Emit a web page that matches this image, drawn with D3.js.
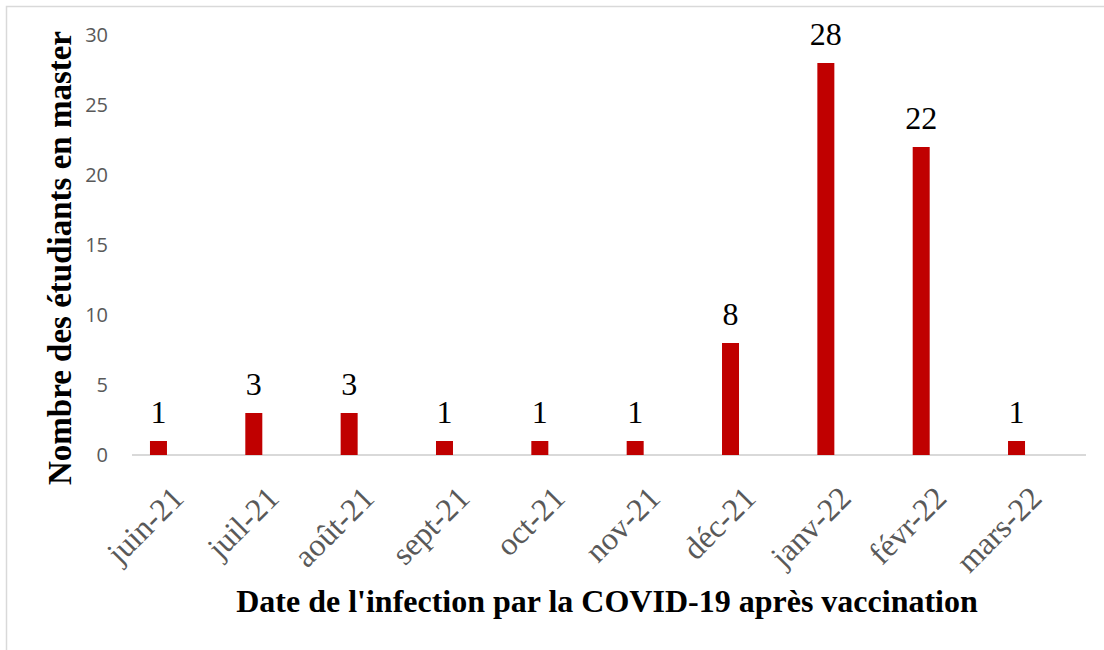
<!DOCTYPE html>
<html>
<head>
<meta charset="utf-8">
<script src="https://cdn.jsdelivr.net/npm/d3@7"></script>
<style>
  body { margin: 0; background: #fff; }
</style>
</head>
<body>
<svg id="chart" width="1104" height="650"></svg>
<script>
// Data
let months = ["juin-21", "juil-21", "août-21", "sept-21", "oct-21", "nov-21", "déc-21", "janv-22", "févr-22", "mars-22"];
let counts = [1, 3, 3, 1, 1, 1, 8, 28, 22, 1];
let yTicks = [0, 5, 10, 15, 20, 25, 30];

let colors = {
  bar: "#c00000",
  tick: "#595959",
  axis: "#d9d9d9",
  frame: "#d9d9d9",
  text: "black"
};

let serif = "'Liberation Serif', 'Times New Roman', serif";

let svg = d3.select("#chart");

// Outer frame
svg.append("rect")
  .attr("x", 6.5)
  .attr("y", 6.5)
  .attr("width", 1120)
  .attr("height", 700)
  .attr("fill", "white")
  .attr("stroke", colors.frame)
  .attr("stroke-width", 1.5);

// Scales
let x = d3.scaleBand()
  .domain(months)
  .range([110.8, 1064.2]);

let y = d3.scaleLinear()
  .domain([0, 30])
  .range([455, 35]);

let barWidth = 17;

// Y tick labels
svg.append("g")
  .selectAll("text")
  .data(yTicks)
  .enter()
  .append("text")
  .attr("x", 108)
  .attr("y", d => y(d))
  .attr("dy", "0.36em")
  .attr("text-anchor", "end")
  .style("font-family", "'Open Sans', 'Liberation Sans', sans-serif")
  .style("font-size", "20px")
  .style("fill", colors.tick)
  .text(d => d);

// Baseline
svg.append("line")
  .attr("x1", 132)
  .attr("x2", 1086)
  .attr("y1", y(0))
  .attr("y2", y(0))
  .attr("stroke", colors.axis)
  .attr("stroke-width", 2);

// Bars
svg.append("g")
  .selectAll("rect")
  .data(counts)
  .enter()
  .append("rect")
  .attr("x", (d, i) => x(months[i]) + x.bandwidth() / 2 - barWidth / 2)
  .attr("y", d => y(d))
  .attr("width", barWidth)
  .attr("height", d => y(0) - y(d))
  .attr("fill", colors.bar);

// Data labels
svg.append("g")
  .selectAll("text")
  .data(counts)
  .enter()
  .append("text")
  .attr("x", (d, i) => x(months[i]) + x.bandwidth() / 2)
  .attr("y", d => y(d) - 18)
  .attr("text-anchor", "middle")
  .style("font-family", serif)
  .style("font-size", "32px")
  .style("fill", colors.text)
  .text(d => d);

// X tick labels (rotated)
svg.append("g")
  .selectAll("text")
  .data(months)
  .enter()
  .append("text")
  .attr("transform", d => "translate(" + (x(d) + x.bandwidth() / 2 + 27) + "," + 500 + ") rotate(-45)")
  .attr("text-anchor", "end")
  .style("font-family", serif)
  .style("font-size", "32px")
  .style("fill", colors.tick)
  .text(d => d);

// Y axis title
svg.append("text")
  .attr("transform", "translate(71,258) rotate(-90)")
  .attr("text-anchor", "middle")
  .style("font-family", serif)
  .style("font-size", "33px")
  .style("font-weight", "bold")
  .style("fill", colors.text)
  .text("Nombre des étudiants en master");

// X axis title
svg.append("text")
  .attr("x", 607)
  .attr("y", 612)
  .attr("text-anchor", "middle")
  .style("font-family", serif)
  .style("font-size", "32px")
  .style("font-weight", "bold")
  .style("fill", colors.text)
  .text("Date de l'infection par la COVID-19 après vaccination");
</script>
</body>
</html>
